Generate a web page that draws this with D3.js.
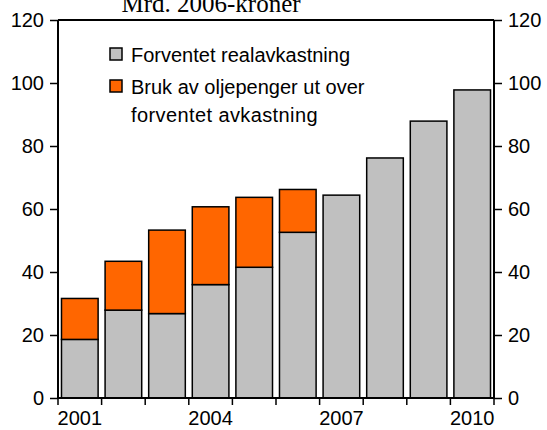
<!DOCTYPE html>
<html>
<head>
<meta charset="utf-8">
<script src="https://cdn.jsdelivr.net/npm/d3@7"></script>
<style>
  body { margin: 0; background: #fff; }
  text { font-family: "Liberation Sans", Arial, sans-serif; }
</style>
</head>
<body>
<div id="chart"></div>
<script>
  // data
  var years = ["2001", "2002", "2003", "2004", "2005", "2006", "2007", "2008", "2009", "2010"]
  var forventet = [18.6, 27.9, 26.8, 36.0, 41.5, 52.6, 64.4, 76.2, 87.9, 97.8]
  var utover = [13.0, 15.5, 26.5, 24.7, 22.2, 13.6, 0, 0, 0, 0]
  var yTicks = [0, 20, 40, 60, 80, 100, 120]
  var xLabels = ["2001", "2004", "2007", "2010"]
  var seriesNames = ["Forventet realavkastning", "Bruk av oljepenger ut over", "forventet avkastning"]

  var width = 547, height = 430
  var plot = {left: 58, right: 494, top: 20, bottom: 398}
  var fontSize = 20

  var svg = d3.select("#chart").append("svg")
      .attr("width", width)
      .attr("height", height)

  var x = d3.scaleBand()
      .domain(years)
      .range([plot.left, plot.right])
      .paddingInner(0.16)
      .paddingOuter(0.08)

  var y = d3.scaleLinear()
      .domain([0, 120])
      .range([plot.bottom, plot.top])

  // stack the two series
  var rows = years.map(function(d, i) { return {year: d, a: forventet[i], b: utover[i]} })
  var stack = d3.stack().keys(["a", "b"])(rows)
  var colors = {a: "#c0c0c0", b: "#ff6600"}

  stack.forEach(function(layer) {
    svg.append("g").selectAll("rect")
        .data(layer.filter(function(d) { return d[1] - d[0] > 0 }))
      .enter().append("rect")
        .attr("x", function(d) { return x(d.data.year) })
        .attr("width", x.bandwidth())
        .attr("y", function(d) { return y(d[1]) })
        .attr("height", function(d) { return y(d[0]) - y(d[1]) })
        .attr("fill", colors[layer.key])
        .attr("stroke", "#000")
        .attr("stroke-width", 1.5)
  })

  // left and right axes
  var leftAxis = svg.append("g")
      .attr("transform", "translate(" + plot.left + ",0)")
      .call(d3.axisLeft(y).tickValues(yTicks).tickSize(8).tickPadding(6))
  var rightAxis = svg.append("g")
      .attr("transform", "translate(" + plot.right + ",0)")
      .call(d3.axisRight(y).tickValues(yTicks).tickSize(8).tickPadding(6))

  ;[leftAxis, rightAxis].forEach(function(g) {
    g.select(".domain").attr("stroke", "#000").attr("stroke-width", 2)
      .attr("d", "M0," + plot.top + "V" + plot.bottom)
    g.selectAll(".tick line").attr("stroke", "#000").attr("stroke-width", 1.5)
    g.selectAll(".tick text").attr("font-size", fontSize).attr("fill", "#000")
      .style("font-family", "'Liberation Sans', Arial, sans-serif")
  })

  // frame top line
  svg.append("line")
      .attr("x1", plot.left).attr("x2", plot.right)
      .attr("y1", y(120)).attr("y2", y(120))
      .attr("stroke", "#000").attr("stroke-width", 2)

  // x axis baseline and ticks between bars
  svg.append("line")
      .attr("x1", plot.left).attr("x2", plot.right)
      .attr("y1", y(0)).attr("y2", y(0))
      .attr("stroke", "#000").attr("stroke-width", 2)

  var step = x.step()
  var bounds = years.map(function(d) { return x(d) - step * x.paddingInner() / 2 })
  bounds.push(plot.right)
  svg.append("g").selectAll("line")
      .data(bounds)
    .enter().append("line")
      .attr("x1", function(d) { return d }).attr("x2", function(d) { return d })
      .attr("y1", y(0)).attr("y2", y(0) + 7)
      .attr("stroke", "#000").attr("stroke-width", 1.5)

  svg.append("g").selectAll("text")
      .data(xLabels)
    .enter().append("text")
      .attr("x", function(d) { return x(d) + x.bandwidth() / 2 })
      .attr("y", 425)
      .attr("text-anchor", "middle")
      .attr("font-size", fontSize)
      .text(function(d) { return d })

  // title, cut at the top edge like the reference
  svg.append("text")
      .attr("x", 211)
      .attr("y", 12)
      .attr("text-anchor", "middle")
      .attr("font-size", 25)
      .style("font-family", "'Liberation Serif', 'Times New Roman', serif")
      .text("Mrd. 2006-kroner")

  // legend
  var legend = svg.append("g")
  legend.append("rect")
      .attr("x", 110).attr("y", 48).attr("width", 12).attr("height", 12)
      .attr("fill", colors.a).attr("stroke", "#000").attr("stroke-width", 1.5)
  legend.append("text")
      .attr("x", 131).attr("y", 62)
      .attr("font-size", fontSize)
      .text(seriesNames[0])
  legend.append("rect")
      .attr("x", 110).attr("y", 80).attr("width", 12).attr("height", 12)
      .attr("fill", colors.b).attr("stroke", "#000").attr("stroke-width", 1.5)
  legend.append("text")
      .attr("x", 131).attr("y", 94)
      .attr("font-size", fontSize)
      .text(seriesNames[1])
  legend.append("text")
      .attr("x", 131).attr("y", 122)
      .attr("font-size", fontSize)
      .attr("letter-spacing", 0.4)
      .text(seriesNames[2])
</script>
</body>
</html>
